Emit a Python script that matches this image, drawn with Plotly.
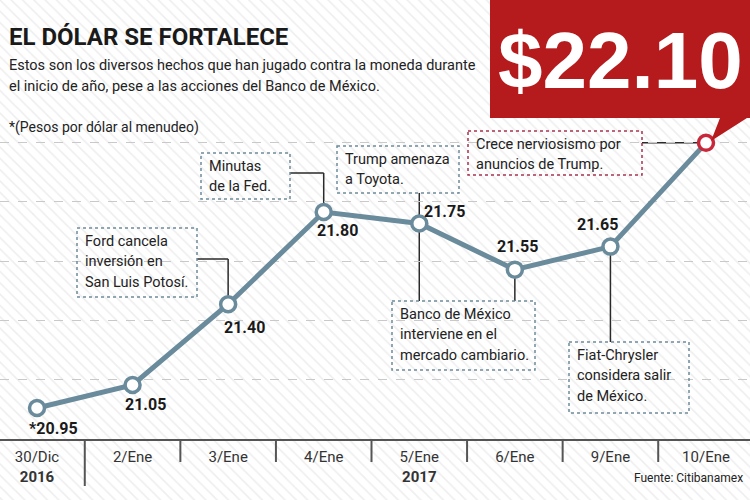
import plotly.graph_objects as go

# ---------------- data ----------------
categories = ["30/Dic", "2/Ene", "3/Ene", "4/Ene", "5/Ene", "6/Ene", "9/Ene", "10/Ene"]
years = ["2016", "", "", "", "2017", "", "", ""]
values = [20.95, 21.05, 21.40, 21.80, 21.75, 21.55, 21.65, 22.10]
value_labels = ["*20.95", "21.05", "21.40", "21.80", "21.75", "21.55", "21.65", ""]
headline_value = "$22.10"

title = "EL DÓLAR SE FORTALECE"
subtitle = ["Estos son los diversos hechos que han jugado contra la moneda durante",
            "el inicio de año, pese a las acciones del Banco de México."]
unit_note = "*(Pesos por dólar al menudeo)"
source = "Fuente: Citibanamex"

events = [
    ["Ford cancela", "inversión en", "San Luis Potosí."],
    ["Minutas", "de la Fed."],
    ["Trump amenaza", "a Toyota."],
    ["Banco de México", "interviene en el", "mercado cambiario."],
    ["Fiat-Chrysler", "considera salir", "de México."],
    ["Crece nerviosismo por", "anuncios de Trump."],
]

# ---------------- styling / layout helpers ----------------
W, H = 750, 500
FONT = "Roboto, Liberation Sans, sans-serif"
LINE_C = "#6a8b9c"
RED = "#b51a1c"
BOX_C = "#6e8c9c"
TXT = "#222222"

X0, X1 = -0.38714, 7.46043
Y0, Y1 = 20.8156, 22.1990
PLOT_TOP, PLOT_BOT = 120, 439


def px(x):
    return x / W


def py(y):
    return 1 - y / H


def x_of_px(p):
    return X0 + p / W * (X1 - X0)


def y_of_py(p):
    return Y0 + (PLOT_BOT - p) / (PLOT_BOT - PLOT_TOP) * (Y1 - Y0)


fig = go.Figure()

# hatched background (full figure)
fig.add_trace(go.Bar(
    x=[0], y=[1], width=[1], xaxis="x", yaxis="y", hoverinfo="skip", showlegend=False,
    marker=dict(color="white", line=dict(width=0),
                pattern=dict(shape="\\", fgcolor="#dedede", bgcolor="white", size=8, solidity=0.2)),
))

# main line
marker_line_colors = [LINE_C] * (len(values) - 1) + ["#c8283a"]
fig.add_trace(go.Scatter(
    x=categories, y=values, xaxis="x2", yaxis="y2", mode="lines+markers",
    line=dict(color=LINE_C, width=5), showlegend=False, hoverinfo="skip",
    marker=dict(symbol="circle", size=15, color="white",
                line=dict(color=marker_line_colors, width=3.5)),
))

shapes = []
annotations = []

# red headline callout
red_path_px = [(490, 0), (750, 0), (750, 118), (747, 118), (711, 141), (720, 118), (490, 118)]
path = "M " + " L ".join(f"{px(a):.5f},{py(b):.5f}" for a, b in red_path_px) + " Z"
shapes.append(dict(type="path", xref="paper", yref="paper", path=path,
                   fillcolor=RED, line=dict(width=0), layer="above"))
annotations.append(dict(x=px(620), y=py(60), xref="paper", yref="paper", text=f"<b>{headline_value}</b>",
                        showarrow=False, font=dict(family="Liberation Sans, Arial, sans-serif", size=80, color="white"),
                        xanchor="center", yanchor="middle"))

# title and texts
annotations.append(dict(x=px(7), y=py(37), xref="paper", yref="paper", text=f"<b>{title}</b>",
                        showarrow=False, xanchor="left", yanchor="middle",
                        font=dict(family=FONT, size=24, color="#1a1a1a")))
for i, line in enumerate(subtitle):
    annotations.append(dict(x=px(7), y=py(65 + 22 * i), xref="paper", yref="paper", text=line,
                            showarrow=False, xanchor="left", yanchor="middle",
                            font=dict(family=FONT, size=14.5, color=TXT)))
annotations.append(dict(x=px(7), y=py(127), xref="paper", yref="paper", text=unit_note,
                        showarrow=False, xanchor="left", yanchor="middle",
                        font=dict(family=FONT, size=14, color=TXT)))
annotations.append(dict(x=px(745), y=py(478), xref="paper", yref="paper", text=source,
                        showarrow=False, xanchor="right", yanchor="middle",
                        font=dict(family=FONT, size=12, color=TXT)))

# value labels
label_shifts = [(16, -20), (13, -20), (16, -23), (14, -18), (25, 12), (3, 23), (-13, 22), (0, 0)]
for c, v, t, (dx, dy) in zip(categories, values, value_labels, label_shifts):
    if not t:
        continue
    annotations.append(dict(x=c, y=v, xref="x2", yref="y2", text=f"<b>{t}</b>", showarrow=False,
                            xshift=dx, yshift=dy, xanchor="center", yanchor="middle",
                            font=dict(family=FONT, size=16, color="#1a1a1a")))

# event boxes (pixel rectangles) and connectors
boxes = [
    (77, 228, 197, 297, BOX_C),
    (201, 153, 290, 199, BOX_C),
    (337, 146, 459, 193, BOX_C),
    (392, 301, 535, 370, BOX_C),
    (569, 342, 689, 413, BOX_C),
    (468, 131, 642, 175, "#a8334f"),
]
for (x0, y0, x1, y1, col), lines in zip(boxes, events):
    shapes.append(dict(type="rect", xref="paper", yref="paper", x0=px(x0), x1=px(x1), y0=py(y0), y1=py(y1),
                       line=dict(color=col, width=1.5, dash="dot"), fillcolor="rgba(255,255,255,0)", layer="above"))
    for j, ln in enumerate(lines):
        annotations.append(dict(x=px(x0 + 6), y=py(y0 + 13 + 20.5 * j), xref="paper", yref="paper", text=ln,
                                showarrow=False, xanchor="left", yanchor="middle", align="left",
                                font=dict(family=FONT, size=14.5, color=TXT)))

CON = dict(color="#2a2a2a", width=1.5)


def seg(xa, ya, xb, yb):
    shapes.append(dict(type="line", xref="x2", yref="y2", x0=xa, y0=ya, x1=xb, y1=yb, line=CON, layer="below"))


# Ford -> 3/Ene
seg(x_of_px(197), y_of_py(259), 2, y_of_py(259))
seg(2, y_of_py(259), 2, values[2])
# Minutas -> 4/Ene
seg(x_of_px(290), y_of_py(173), 3, y_of_py(173))
seg(3, y_of_py(173), 3, values[3])
# Trump -> 5/Ene
seg(4, y_of_py(193), 4, values[4])
# Banco -> 5/Ene and 6/Ene
seg(4, values[4], 4, y_of_py(301))
seg(5, values[5], 5, y_of_py(301))
# Fiat -> 9/Ene
seg(6, values[6], 6, y_of_py(342))
# Crece -> 10/Ene
seg(x_of_px(642), values[7], 7, values[7])

# separators between categories
for i in range(len(categories) - 1):
    shapes.append(dict(type="line", xref="x2", yref="paper", x0=i + 0.5, x1=i + 0.5,
                       y0=py(439), y1=py(486 if i == 0 else 462), line=dict(color="#555555", width=2)))

ticktext = [f"{c}<br><b>{y}</b>" if y else c for c, y in zip(categories, years)]

fig.update_layout(
    width=W, height=H, margin=dict(l=0, r=0, t=0, b=0),
    paper_bgcolor="white", plot_bgcolor="rgba(0,0,0,0)",
    showlegend=False, bargap=0,
    xaxis=dict(domain=[0, 1], range=[-0.5, 0.5], visible=False, fixedrange=True),
    yaxis=dict(domain=[0, 1], range=[0, 1], visible=False, fixedrange=True),
    xaxis2=dict(domain=[0, 1], anchor="y2", range=[X0, X1], type="category",
                tickmode="array", tickvals=categories, ticktext=ticktext,
                tickfont=dict(family=FONT, size=15, color="#333333"), ticklabelstandoff=3,
                showgrid=False, showline=True, linecolor="#555555", linewidth=2, ticks="",
                zeroline=False),
    yaxis2=dict(domain=[61 / H, 1 - PLOT_TOP / H], anchor="x2", range=[Y0, Y1],
                showticklabels=False, showgrid=True, gridcolor="#c9c9c9", griddash="dash", gridwidth=1,
                tick0=22.10, dtick=0.2565, zeroline=False, showline=False, ticks=""),
    shapes=shapes, annotations=annotations,
)

fig.write_html("out.html")
